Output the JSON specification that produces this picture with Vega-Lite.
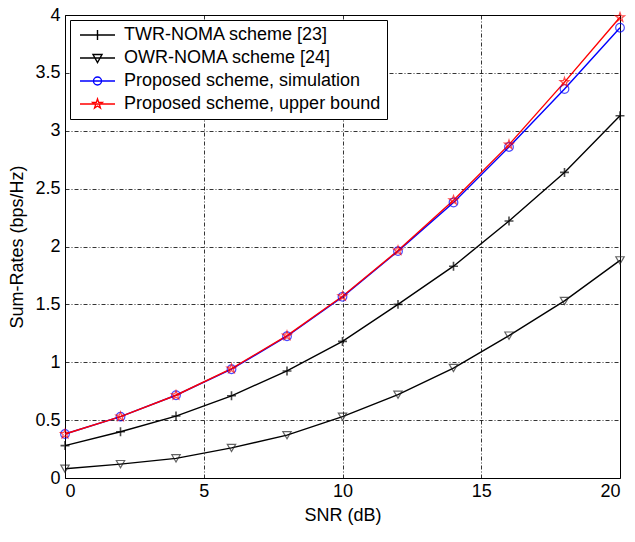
{
  "$schema": "https://vega.github.io/schema/vega-lite/v6.json",
  "width": 555,
  "height": 463,
  "autosize": {"type": "none"},
  "padding": {"left": 65, "top": 15, "right": 15, "bottom": 64},
  "config": {
    "font": "Liberation Sans",
    "view": {"stroke": "black", "strokeWidth": 1},
    "legend": {
      "strokeColor": "black",
      "fillColor": "white",
      "padding": 6,
      "cornerRadius": 0,
      "labelFontSize": 18,
      "labelColor": "black",
      "labelLimit": 400
    },
    "axis": {
      "domain": false,
      "ticks": false,
      "grid": true,
      "gridColor": "black",
      "gridOpacity": 1,
      "gridWidth": 0.8,
      "gridDash": [4, 2, 1, 2],
      "labelFontSize": 18,
      "labelColor": "black",
      "titleFontSize": 18,
      "titleFontWeight": "normal",
      "titleColor": "black"
    }
  },
  "data": {
    "values": [
      {"snr": 0, "rate": 0.28, "scheme": "TWR-NOMA scheme [23]"},
      {"snr": 2, "rate": 0.40, "scheme": "TWR-NOMA scheme [23]"},
      {"snr": 4, "rate": 0.535, "scheme": "TWR-NOMA scheme [23]"},
      {"snr": 6, "rate": 0.71, "scheme": "TWR-NOMA scheme [23]"},
      {"snr": 8, "rate": 0.925, "scheme": "TWR-NOMA scheme [23]"},
      {"snr": 10, "rate": 1.18, "scheme": "TWR-NOMA scheme [23]"},
      {"snr": 12, "rate": 1.50, "scheme": "TWR-NOMA scheme [23]"},
      {"snr": 14, "rate": 1.83, "scheme": "TWR-NOMA scheme [23]"},
      {"snr": 16, "rate": 2.22, "scheme": "TWR-NOMA scheme [23]"},
      {"snr": 18, "rate": 2.64, "scheme": "TWR-NOMA scheme [23]"},
      {"snr": 20, "rate": 3.13, "scheme": "TWR-NOMA scheme [23]"},
      {"snr": 0, "rate": 0.08, "scheme": "OWR-NOMA scheme [24]"},
      {"snr": 2, "rate": 0.12, "scheme": "OWR-NOMA scheme [24]"},
      {"snr": 4, "rate": 0.17, "scheme": "OWR-NOMA scheme [24]"},
      {"snr": 6, "rate": 0.26, "scheme": "OWR-NOMA scheme [24]"},
      {"snr": 8, "rate": 0.37, "scheme": "OWR-NOMA scheme [24]"},
      {"snr": 10, "rate": 0.53, "scheme": "OWR-NOMA scheme [24]"},
      {"snr": 12, "rate": 0.72, "scheme": "OWR-NOMA scheme [24]"},
      {"snr": 14, "rate": 0.95, "scheme": "OWR-NOMA scheme [24]"},
      {"snr": 16, "rate": 1.23, "scheme": "OWR-NOMA scheme [24]"},
      {"snr": 18, "rate": 1.53, "scheme": "OWR-NOMA scheme [24]"},
      {"snr": 20, "rate": 1.88, "scheme": "OWR-NOMA scheme [24]"},
      {"snr": 0, "rate": 0.38, "scheme": "Proposed scheme, simulation"},
      {"snr": 2, "rate": 0.53, "scheme": "Proposed scheme, simulation"},
      {"snr": 4, "rate": 0.715, "scheme": "Proposed scheme, simulation"},
      {"snr": 6, "rate": 0.94, "scheme": "Proposed scheme, simulation"},
      {"snr": 8, "rate": 1.225, "scheme": "Proposed scheme, simulation"},
      {"snr": 10, "rate": 1.565, "scheme": "Proposed scheme, simulation"},
      {"snr": 12, "rate": 1.96, "scheme": "Proposed scheme, simulation"},
      {"snr": 14, "rate": 2.38, "scheme": "Proposed scheme, simulation"},
      {"snr": 16, "rate": 2.86, "scheme": "Proposed scheme, simulation"},
      {"snr": 18, "rate": 3.36, "scheme": "Proposed scheme, simulation"},
      {"snr": 20, "rate": 3.89, "scheme": "Proposed scheme, simulation"},
      {"snr": 0, "rate": 0.38, "scheme": "Proposed scheme, upper bound"},
      {"snr": 2, "rate": 0.53, "scheme": "Proposed scheme, upper bound"},
      {"snr": 4, "rate": 0.715, "scheme": "Proposed scheme, upper bound"},
      {"snr": 6, "rate": 0.945, "scheme": "Proposed scheme, upper bound"},
      {"snr": 8, "rate": 1.23, "scheme": "Proposed scheme, upper bound"},
      {"snr": 10, "rate": 1.57, "scheme": "Proposed scheme, upper bound"},
      {"snr": 12, "rate": 1.965, "scheme": "Proposed scheme, upper bound"},
      {"snr": 14, "rate": 2.40, "scheme": "Proposed scheme, upper bound"},
      {"snr": 16, "rate": 2.88, "scheme": "Proposed scheme, upper bound"},
      {"snr": 18, "rate": 3.42, "scheme": "Proposed scheme, upper bound"},
      {"snr": 20, "rate": 3.98, "scheme": "Proposed scheme, upper bound"}
    ]
  },
  "encoding": {
    "x": {
      "field": "snr", "type": "quantitative",
      "scale": {"domain": [0, 20], "nice": false, "zero": false},
      "axis": {"title": "SNR (dB)", "values": [0, 5, 10, 15, 20], "format": "d", "labelPadding": 4, "titlePadding": 6}
    },
    "y": {
      "field": "rate", "type": "quantitative",
      "scale": {"domain": [0, 4], "nice": false},
      "axis": {"title": "Sum-Rates (bps/Hz)", "values": [0, 0.5, 1, 1.5, 2, 2.5, 3, 3.5, 4], "labelExpr": "'' + datum.value", "labelPadding": 5, "titlePadding": 8}
    }
  },
  "layer": [
    {
      "mark": {"type": "line", "strokeWidth": 1.4},
      "encoding": {
        "stroke": {
          "field": "scheme", "type": "nominal",
          "scale": {
            "domain": ["TWR-NOMA scheme [23]", "OWR-NOMA scheme [24]", "Proposed scheme, simulation", "Proposed scheme, upper bound"],
            "range": ["black", "black", "blue", "red"]
          },
          "legend": {
            "title": null,
            "orient": "top-left",
            "offset": 5,
            "padding": 6,
            "strokeColor": "black",
            "fillColor": "white",
            "labelFontSize": 18,
            "labelLimit": 400,
            "labelOffset": 30,
            "rowPadding": 5,
            "symbolSize": 100,
            "symbolStrokeWidth": 1.4,
            "encode": {
              "symbols": {
                "update": {
                  "shape": {"signal": "datum.value === 'TWR-NOMA scheme [23]' ? 'M-1,0L6,0M2.5,-1L2.5,1M1.5,0L3.5,0' : datum.value === 'OWR-NOMA scheme [24]' ? 'M-1,0L6,0M1.6,-0.7L3.4,-0.7L2.5,0.9Z' : datum.value === 'Proposed scheme, simulation' ? 'M-1,0L6,0M3.3,0A0.8,0.8,0,1,1,1.7,0A0.8,0.8,0,1,1,3.3,0' : 'M-1,0L6,0M2.5,-1L2.735,-0.324L3.451,-0.309L2.88,0.124L3.088,0.809L2.5,0.4L1.912,0.809L2.12,0.124L1.549,-0.309L2.265,-0.324Z'"},
                  "fill": {"value": "transparent"},
                  "strokeWidth": {"value": 1.4}
                }
              }
            }
          }
        }
      }
    },
    {
      "transform": [{"filter": "datum.scheme === 'TWR-NOMA scheme [23]'"}],
      "mark": {"type": "point", "filled": false, "size": 80, "strokeWidth": 1.6, "color": "black", "shape": "M-1,0L1,0M0,-1L0,1"},
      "encoding": {}
    },
    {
      "transform": [{"filter": "datum.scheme === 'OWR-NOMA scheme [24]'"}],
      "mark": {"type": "point", "filled": false, "size": 70, "strokeWidth": 1.2, "color": "#222", "shape": "triangle-down"},
      "encoding": {}
    },
    {
      "transform": [{"filter": "datum.scheme === 'Proposed scheme, simulation'"}],
      "mark": {"type": "point", "filled": false, "size": 75, "strokeWidth": 1.2, "color": "blue", "shape": "circle"},
      "encoding": {}
    },
    {
      "transform": [{"filter": "datum.scheme === 'Proposed scheme, upper bound'"}],
      "mark": {"type": "point", "filled": false, "size": 90, "strokeWidth": 1.2, "color": "red", "shape": "M0,-1L0.235,-0.324L0.951,-0.309L0.38,0.124L0.588,0.809L0,0.4L-0.588,0.809L-0.38,0.124L-0.951,-0.309L-0.235,-0.324Z"},
      "encoding": {}
    }
  ]
}
